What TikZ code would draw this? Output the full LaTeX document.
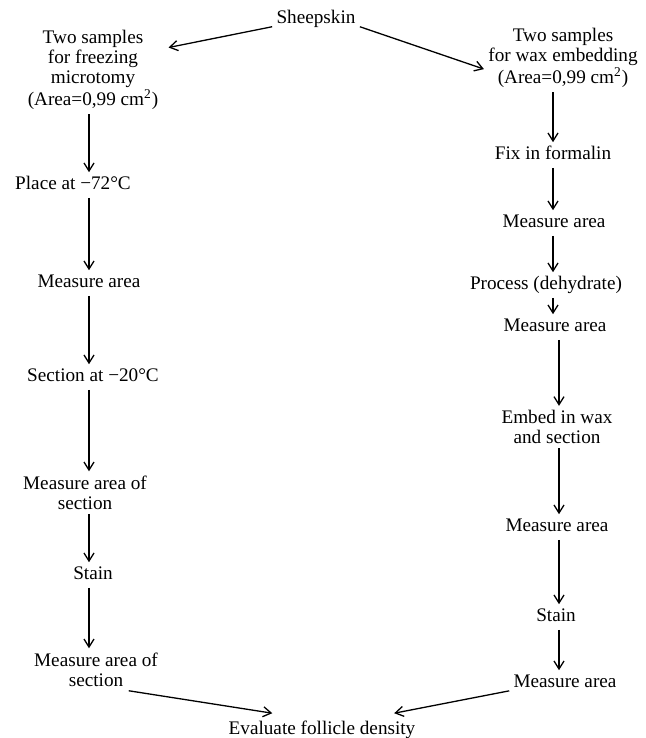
\documentclass[tikz,border=0pt]{standalone}
\usepackage{fontspec}
\setmainfont{Liberation Serif}
\usetikzlibrary{arrows.meta}
\begin{document}
\begin{tikzpicture}[x=0.5pt, y=-0.5pt, line join=round,
    every node/.style={font=\fontsize{9.6}{10}\selectfont, inner sep=2pt},
    stage/.style={text height=6.6pt, text depth=1.8pt},
    multi/.style={align=center},
    flow/.style={-{Straight Barb[length=4pt,width=5pt]}, line width=0.65pt}]
    \useasboundingbox (0,0) rectangle (645,738);

    % Axes of the two columns of vertical arrows
    \coordinate (lc) at (89,0);
    \coordinate (rc) at (553,0);
    \coordinate (rd) at (559,0);

    % Start and end of the scheme
    \node[stage] (sheep) at (316,19) {Sheepskin};
    \node[stage] (eval) at (322,730) {Evaluate follicle density};

    % Freezing microtomy branch (left)
    \node[multi] (L0) at (93,70) {Two samples\\for freezing\\microtomy\\(Area=0,99 cm\textsuperscript{2})};
    \node[stage] (L1) at (73,185) {Place at −72°C};
    \node[stage] (L2) at (89,283) {Measure area};
    \node[stage] (L3) at (93,377) {Section at −20°C};
    \node[multi] (L4) at (85,492.5) {Measure area of\\section};
    \node[stage] (L5) at (93,575) {Stain};
    \node[multi] (L6) at (96,669.5) {Measure area of\\section};

    % Wax embedding branch (right)
    \node[multi] (R0) at (563,58) {Two samples\\for wax embedding\\(Area=0,99 cm\textsuperscript{2})};
    \node[stage] (R1) at (553,155) {Fix in formalin};
    \node[stage] (R2) at (554,223) {Measure area};
    \node[stage] (R3) at (546,285) {Process (dehydrate)};
    \node[stage] (R4) at (555,327) {Measure area};
    \node[multi] (R5) at (557,427) {Embed in wax\\and section};
    \node[stage] (R6) at (557,527) {Measure area};
    \node[stage] (R7) at (556,617) {Stain};
    \node[stage] (R8) at (565,683) {Measure area};

    % Sheepskin split into the two sample sets
    \draw[flow, shorten >=3pt] (sheep.190) -- (L0.17);
    \draw[flow] (sheep.-10) -- (R0.188);

    % Left chain
    \draw[flow] (L0.south -| lc) -- (L1.north -| lc);
    \draw[flow] (L1.south -| lc) -- (L2.north -| lc);
    \draw[flow] (L2.south -| lc) -- (L3.north -| lc);
    \draw[flow] (L3.south -| lc) -- (L4.north -| lc);
    \draw[flow] (L4.south -| lc) -- (L5.north -| lc);
    \draw[flow] (L5.south -| lc) -- (L6.north -| lc);

    % Right chain
    \draw[flow] (R0.south -| rc) -- (R1.north -| rc);
    \draw[flow] (R1.south -| rc) -- (R2.north -| rc);
    \draw[flow] (R2.south -| rc) -- (R3.north -| rc);
    \draw[flow] (R3.south -| rc) -- (R4.north -| rc);
    \draw[flow] (R4.south -| rd) -- (R5.north -| rd);
    \draw[flow] (R5.south -| rd) -- (R6.north -| rd);
    \draw[flow] (R6.south -| rd) -- (R7.north -| rd);
    \draw[flow] (R7.south -| rd) -- (R8.north -| rd);

    % Both branches meet at the evaluation
    \draw[flow] (L6.-33) -- ([xshift=24pt,yshift=2pt]eval.north west);
    \draw[flow] (R8.188) -- ([xshift=-12.75pt,yshift=2pt]eval.north east);
\end{tikzpicture}
\end{document}
